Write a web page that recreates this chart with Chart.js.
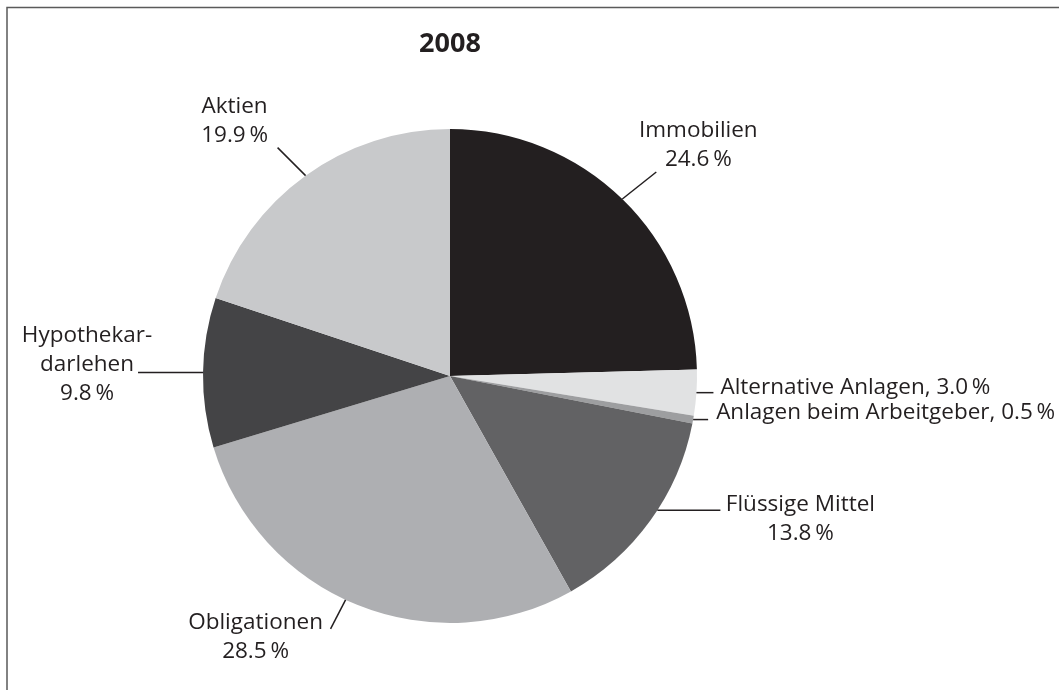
<!DOCTYPE html>
<html>
<head>
<meta charset="utf-8">
<script src="https://cdn.jsdelivr.net/npm/chart.js@4"></script>
<style>
  html, body { margin: 0; padding: 0; background: #fff; }
  #wrap { width: 1059px; height: 690px; }
</style>
</head>
<body>
<div id="wrap"><canvas id="pie" width="1059" height="690"></canvas></div>
<script>
// Vermögensaufteilung 2008
var title = '2008';
var categories = ['Immobilien', 'Alternative Anlagen', 'Anlagen beim Arbeitgeber', 'Flüssige Mittel', 'Obligationen', 'Hypothekardarlehen', 'Aktien'];
var values = [24.6, 3.0, 0.5, 13.8, 28.5, 9.8, 19.9];
var colors = ['#231f20', '#e1e2e3', '#9d9ea0', '#626264', '#aeafb2', '#444446', '#c8c9cb'];

function pct(v) { return v.toFixed(1) + '\u2009%'; }

// text lines shown next to each slice
var labelLines = [
    [categories[0], pct(values[0])],
    [categories[1] + ', ' + pct(values[1])],
    [categories[2] + ', ' + pct(values[2])],
    [categories[3], pct(values[3])],
    [categories[4], pct(values[4])],
    ['Hypothekar-', 'darlehen', pct(values[5])],
    [categories[6], pct(values[6])]
];

// where the leader leaves the slice (fraction of the arc), leader offset, text offset
var labelLayout = [
    { frac: 0.5,  lx: 34,  ly: -27, tx: 42,  ty: -35, align: 'center' },
    { frac: 0.5,  lx: 17,  ly: 0,   tx: 7,   ty: 1,   align: 'left' },
    { frac: 0.5,  lx: 15,  ly: 0,   tx: 8,   ty: -1,  align: 'left' },
    { frac: 0.44, lx: 63,  ly: 0,   tx: 80,  ty: 1,   align: 'center' },
    { frac: 0.53, lx: -15, ly: 29,  tx: -75, ty: 0,   align: 'center' },
    { frac: 0.5,  lx: -65, ly: 0,   tx: -51, ty: -31, align: 'center' },
    { frac: 0.5,  lx: -28, ly: -28, tx: -43, ty: -35, align: 'center' }
];

var sliceLabels = {
    id: 'sliceLabels',
    afterDraw: function (chart) {
        var ctx = chart.ctx;
        var arcs = chart.getDatasetMeta(0).data;
        ctx.save();
        // frame (top and left edge only)
        ctx.strokeStyle = '#5a5a5a';
        ctx.lineWidth = 1.5;
        ctx.beginPath();
        ctx.moveTo(7, 690);
        ctx.lineTo(7, 7.5);
        ctx.lineTo(1059, 7.5);
        ctx.stroke();

        ctx.font = '22.5px "Open Sans"';
        ctx.fillStyle = '#231f20';
        ctx.strokeStyle = '#231f20';
        ctx.lineWidth = 1.5;
        ctx.textBaseline = 'alphabetic';
        arcs.forEach(function (arc, i) {
            var lay = labelLayout[i];
            var a = arc.startAngle + (arc.endAngle - arc.startAngle) * lay.frac;
            var x0 = arc.x + Math.cos(a) * arc.outerRadius;
            var y0 = arc.y + Math.sin(a) * arc.outerRadius;
            var x1 = x0 + lay.lx;
            var y1 = y0 + lay.ly;
            ctx.beginPath();
            ctx.moveTo(x0, y0);
            ctx.lineTo(x1, y1);
            ctx.stroke();
            ctx.textAlign = lay.align;
            labelLines[i].forEach(function (line, j) {
                ctx.fillText(line, x1 + lay.tx, y1 + lay.ty + j * 29);
            });
        });
        ctx.restore();
    }
};

var pieChart = new Chart(document.getElementById('pie').getContext('2d'), {
    type: 'pie',
    data: {
        labels: categories,
        datasets: [{
            data: values,
            backgroundColor: colors,
            borderWidth: 0
        }]
    },
    options: {
        responsive: false,
        animation: false,
        layout: {
            padding: { top: 0, bottom: 67, left: 203, right: 362 }
        },
        plugins: {
            legend: { display: false },
            tooltip: { enabled: false },
            title: {
                display: true,
                text: title,
                color: '#231f20',
                font: { family: 'Open Sans', size: 27, weight: 'bold' },
                padding: { top: 28, bottom: 68.6 }
            }
        }
    },
    plugins: [sliceLabels]
});
</script>
</body>
</html>
